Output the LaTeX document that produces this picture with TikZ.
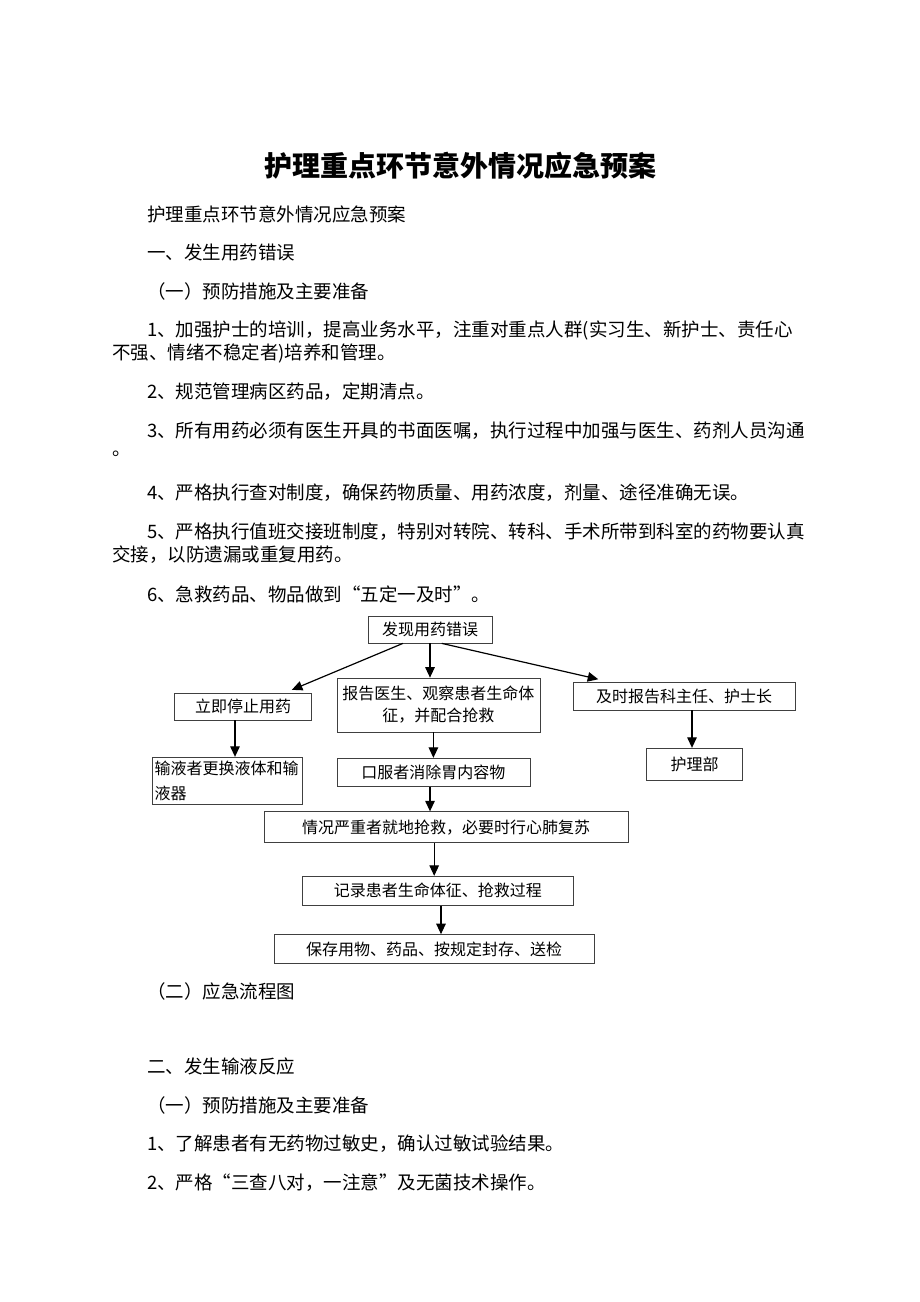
\documentclass[tikz,border=0pt]{standalone}
\usepackage{fontspec}
\setmainfont{Noto Sans CJK SC}
\usetikzlibrary{arrows.meta}

\begin{document}
\begin{tikzpicture}[x=1pt, y=-1pt,
    para/.style={anchor=west, inner sep=0pt, font=\fontsize{18.5}{22}\selectfont},
    box/.style={draw=black!75, line width=0.7pt, inner sep=0pt, align=center,
                font=\fontsize{16}{22}\selectfont},
    arr/.style={-{Triangle[length=10.5pt,width=9.5pt]}, line width=1.2pt}]
    \fill[white] (0,0) rectangle (920,1302);
    \useasboundingbox (0,0) rectangle (920,1302);

    \node[font=\fontsize{28}{30}\selectfont\bfseries] (title) at (460,166) {护理重点环节意外情况应急预案};

    % part one
    \node[para] (intro) at (147,214) {护理重点环节意外情况应急预案};
    \node[para] (secA) at (147,252) {一、发生用药错误};
    \node[para] (prevA) at (147,291) {（一）预防措施及主要准备};
    \node[para] (itemAa) at (147,330) {1、加强护士的培训，提高业务水平，注重对重点人群(实习生、新护士、责任心};
    \node[para] (itemAb) at (112,353) {不强、情绪不稳定者)培养和管理。};
    \node[para] (itemAc) at (147,392) {2、规范管理病区药品，定期清点。};
    \node[para] (itemAd) at (147,431) {3、所有用药必须有医生开具的书面医嘱，执行过程中加强与医生、药剂人员沟通};
    \node[para] (itemAe) at (112,454) {。};
    \node[para] (itemAf) at (147,493) {4、严格执行查对制度，确保药物质量、用药浓度，剂量、途径准确无误。};
    \node[para] (itemAg) at (147,532) {5、严格执行值班交接班制度，特别对转院、转科、手术所带到科室的药物要认真};
    \node[para] (itemAh) at (112,555) {交接，以防遗漏或重复用药。};
    \node[para] (itemAi) at (147,594) {6、急救药品、物品做到“五定一及时”。};

    % flow chart
    \node[box, minimum width=124, minimum height=27] (find) at (430,629.5) {发现用药错误};
    \node[box, minimum width=137, minimum height=27] (stop) at (243,706.4) {立即停止用药};
    \node[box, minimum width=203, minimum height=54] (report) at (438.4,705) {报告医生、观察患者生命体\\征，并配合抢救};
    \node[box, minimum width=222, minimum height=28] (tell) at (684,696) {及时报告科主任、护士长};
    \node[box, minimum width=150, minimum height=47, text width=146, inner sep=2pt, align=left,
          font=\fontsize{16}{25}\selectfont] (infuse) at (227.5,780.7) {输液者更换液体和输\\液器};
    \node[box, minimum width=193, minimum height=28] (oral) at (433.4,772.2) {口服者消除胃内容物};
    \node[box, minimum width=96, minimum height=32] (ward) at (694.7,764.2) {护理部};
    \node[box, minimum width=364, minimum height=31] (severe) at (446.2,827.2) {情况严重者就地抢救，必要时行心肺复苏};
    \node[box, minimum width=271, minimum height=29] (record) at (437.8,890.7) {记录患者生命体征、抢救过程};
    \node[box, minimum width=320, minimum height=29] (keep) at (434,949) {保存用物、药品、按规定封存、送检};

    \draw[arr] ([xshift=-27pt]find.south) -- ([xshift=-20pt,yshift=2.7pt]stop.north east);
    \draw[arr] (find.south) -- (find.south |- report.north);
    \draw[arr] ([xshift=11.7pt]find.south) -- ([xshift=25.6pt,yshift=2.4pt]tell.north west);
    \draw[arr] ([xshift=-8pt]stop.south) -- ([xshift=-8pt]stop.south |- infuse.north);
    \draw[arr] ([xshift=-5pt]report.south) -- ([xshift=-5pt]report.south |- oral.north);
    \draw[arr] ([xshift=8pt]tell.south) -- ([xshift=8pt]tell.south |- ward.north);
    \draw[arr] ([xshift=-3.4pt]oral.south) -- ([xshift=-3.4pt]oral.south |- severe.north);
    \draw[arr] ([xshift=-12pt]severe.south) -- ([xshift=-12pt]severe.south |- record.north);
    \draw[arr] ([xshift=3.2pt]record.south) -- ([xshift=3.2pt]record.south |- keep.north);

    % part two
    \node[para] (flowname) at (147,991) {（二）应急流程图};
    \node[para] (secB) at (147,1066) {二、发生输液反应};
    \node[para] (prevB) at (147,1105) {（一）预防措施及主要准备};
    \node[para] (itemBa) at (147,1144) {1、了解患者有无药物过敏史，确认过敏试验结果。};
    \node[para] (itemBb) at (147,1183) {2、严格“三查八对，一注意”及无菌技术操作。};
\end{tikzpicture}
\end{document}
